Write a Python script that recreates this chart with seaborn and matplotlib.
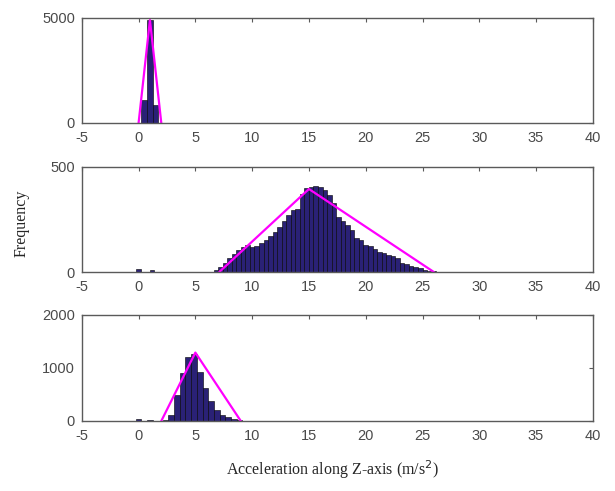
import matplotlib
matplotlib.use("Agg")
import matplotlib.pyplot as plt
import numpy as np
import seaborn as sns

sns.set_style("white")
plt.rcParams["font.family"] = ["Liberation Sans", "DejaVu Sans"]
plt.rcParams["axes.unicode_minus"] = False

# ---- data ----
# top panel (narrow spike near 1 m/s^2)
top_edges = [0.25, 0.75, 1.25, 1.75]
top_counts = [1100, 4900, 880]
top_tri_x = [0.0, 1.0, 2.0]
top_tri_y = [0, 4900, 0]

# middle panel (broad distribution, peak near 15)
mid_edges = [-0.2, 0.2, 0.6, 1.0, 1.4] + [round(6.6 + 0.4 * i, 2) for i in range(51)]
mid_counts_low = [15, 0, 0, 9]
mid_counts = [8, 25, 45, 65, 85, 105, 120, 130, 120, 125,
              140, 150, 170, 190, 215, 245, 270, 295, 300, 370,
              400, 405, 410, 405, 390, 365, 330, 260, 245, 225,
              200, 160, 150, 130, 125, 110, 97, 90, 82, 78,
              65, 45, 40, 28, 24, 18, 10, 5, 3, 1]
mid_tri_x = [7.1, 15.0, 26.0]
mid_tri_y = [0, 395, 0]

# bottom panel (peak near 5)
bot_edges = [-0.25, 0.25, 0.75, 1.25] + [round(2.13 + 0.5 * i, 2) for i in range(15)]
bot_counts_low = [40, 0, 15]
bot_counts = [20, 110, 490, 900, 1200, 1270, 920, 620, 380, 210, 110, 75, 30, 10]
bot_tri_x = [2.0, 5.0, 9.0]
bot_tri_y = [0, 1290, 0]

x_ticks = [-5, 0, 5, 10, 15, 20, 25, 30, 35, 40]

bar_color = "#2A2176"
line_color = "#FF00FF"
axis_color = "#5a5a5a"


def hist_panel(ax, edges, counts, tri_x, tri_y, ymax, yticks):
    # weighted histogram: one weight per bin
    centers = [(edges[i] + edges[i + 1]) / 2 for i in range(len(counts))]
    sns.histplot(x=centers, weights=counts, bins=edges, ax=ax,
                 color=bar_color, edgecolor="black", linewidth=0.4, alpha=1)
    ax.plot(tri_x, tri_y, color=line_color, linewidth=1.6)
    ax.set_xlim(-5, 40)
    ax.set_ylim(0, ymax)
    ax.set_xticks(x_ticks)
    ax.set_yticks(yticks)
    ax.set_ylabel("")
    ax.set_xlabel("")
    ax.tick_params(direction="in", length=3, width=0.8, colors=axis_color,
                   labelsize=10.5, top=True, right=True, labelcolor="#4a4a4a")
    ax.tick_params(axis="x", pad=6)
    ax.tick_params(axis="y", pad=5)
    for s in ax.spines.values():
        s.set_color(axis_color)
        s.set_linewidth(1.0)


fig = plt.figure(figsize=(6.15, 4.91), dpi=100)
ax1 = fig.add_axes([0.133, 0.7495, 0.831, 0.214])
ax2 = fig.add_axes([0.133, 0.446, 0.831, 0.214])
ax3 = fig.add_axes([0.133, 0.1426, 0.831, 0.216])

hist_panel(ax1, top_edges, top_counts, top_tri_x, top_tri_y, 5000, [0, 5000])

# gap bin between 1.4 and 6.6 is zero-height
mid_all_counts = mid_counts_low + [0] + mid_counts
hist_panel(ax2, mid_edges, mid_all_counts, mid_tri_x, mid_tri_y, 500, [0, 500])

bot_all_counts = bot_counts_low + [0] + bot_counts
hist_panel(ax3, bot_edges, bot_all_counts, bot_tri_x, bot_tri_y, 2000, [0, 1000, 2000])

fig.text(0.035, 0.545, "Frequency", rotation=90, ha="center", va="center",
         fontsize=11.5, family=["Liberation Serif", "DejaVu Serif"])
fig.text(0.54, 0.043, "Acceleration along Z-axis (m/s$^2$)", ha="center", va="center",
         fontsize=11.5, family=["Liberation Serif", "DejaVu Serif"])

fig.savefig("out.png", dpi=100, facecolor="white")
